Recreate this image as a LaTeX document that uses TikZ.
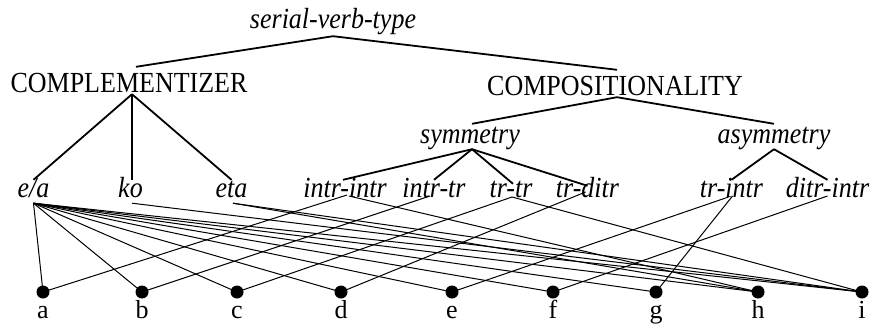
\documentclass[tikz,border=0pt]{standalone}
\usepackage{fontspec}
\usepackage{graphicx}
\setmainfont{Liberation Serif}
\newcommand\vst[1]{\scalebox{1}[1.12]{#1}}
\begin{document}
\begin{tikzpicture}[x=1bp,y=-1bp,
  lbl/.style={inner sep=0pt,anchor=base},
  rm/.style={font=\fontsize{26bp}{30bp}\selectfont},
  itl/.style={font=\fontsize{26bp}{30bp}\selectfont\itshape},
  top/.style={lbl,rm,text height=25bp,text depth=2bp},
  mid/.style={lbl,itl,text height=19bp,text depth=6bp},
  low/.style={lbl,itl,text height=17bp,text depth=6bp},
  dot/.style={circle,fill=black,inner sep=0pt,minimum size=13bp},
  tree/.style={line width=1.8bp},
  conn/.style={line width=1bp}]
\useasboundingbox (0,0) rectangle (872,325);
% labels
\node[lbl,itl,text depth=8bp] (svt) at (333,28) {\vst{serial-verb-type}};
\node[top] (cz) at (129,92) {\vst{COMPLEMENTIZER}};
\node[top] (cp) at (615,95) {\vst{COMPOSITIONALITY}};
\node[mid] (sym) at (470,143) {\vst{symmetry}};
\node[mid] (asym) at (774,143) {\vst{asymmetry}};
\node[low] (ea) at (33.5,197) {\vst{e/a}};
\node[low] (ko) at (130.5,197) {\vst{ko}};
\node[low] (eta) at (231.5,197) {\vst{eta}};
\node[low] (ii) at (345,197) {\vst{intr-intr}};
\node[low] (itr) at (434,197) {\vst{intr-tr}};
\node[low] (tt) at (511,197) {\vst{tr-tr}};
\node[low] (td) at (587.5,197) {\vst{tr-ditr}};
\node[low] (ti) at (731.5,197) {\vst{tr-intr}};
\node[low] (di) at (827.5,197) {\vst{ditr-intr}};
% dots
\foreach \n/\x in {a/43,b/142,c/237,d/341,e/452,f/553,g/656,h/758,i/862}{
  \node[dot] (\n) at (\x,292) {};
  \node[lbl,rm] (l\n) at (\x,318) {\n};
}
% tree
\draw[tree] (svt.south) -- ([xshift=7bp]cz.north);
\draw[tree] (svt.south) -- ([xshift=2bp]cp.north);
\draw[tree] ([xshift=3bp]cz.south) -- (ea.north);
\draw[tree] ([xshift=3bp]cz.south) -- ([xshift=1.5bp]ko.north);
\draw[tree] ([xshift=3bp]cz.south) -- (eta.north);
\draw[tree] ([xshift=2bp]cp.south) -- ([xshift=2bp]sym.north);
\draw[tree] ([xshift=2bp]cp.south) -- (asym.north);
\draw[tree] ([xshift=2bp]sym.south) -- ([xshift=-2bp]ii.north);
\draw[tree] ([xshift=2bp]sym.south) -- (itr.north);
\draw[tree] ([xshift=2bp]sym.south) -- ([xshift=2bp,yshift=-4bp]tt.north);
\draw[tree] ([xshift=2bp]sym.south) -- ([yshift=-6bp]td.north);
\draw[tree] (asym.south) -- (ti.north);
\draw[tree] (asym.south) -- (di.north);
% connectors
\foreach \n in {a,b,c,d,e,f,g,h,i}{
  \draw[conn] (ea.south) -- (\n.center);
}
\draw[conn] ([xshift=1.5bp]ko.south) -- (i.center);
\draw[conn] ([xshift=1.5bp]eta.south) -- (h.center);
\draw[conn] ([xshift=1.5bp]eta.south) -- (i.center);
\draw[conn] ([xshift=2bp,yshift=2bp]ii.base) -- (a.center);
\draw[conn] ([xshift=4bp,yshift=1bp]ii.base) -- (h.center);
\draw[conn] ([xshift=-4bp,yshift=1bp]itr.base) -- (b.center);
\draw[conn] ([xshift=1bp]tt.base) -- (c.center);
\draw[conn] ([xshift=1bp]tt.base) -- (i.center);
\draw[conn] ([xshift=-2bp,yshift=5bp]td.base) -- (d.center);
\draw[conn] ([xshift=-3bp]ti.base) -- (e.center);
\draw[conn] ([xshift=1bp,yshift=1bp]ti.base) -- (g.center);
\draw[conn] ([yshift=1bp]di.base) -- (f.center);
\end{tikzpicture}
\end{document}
